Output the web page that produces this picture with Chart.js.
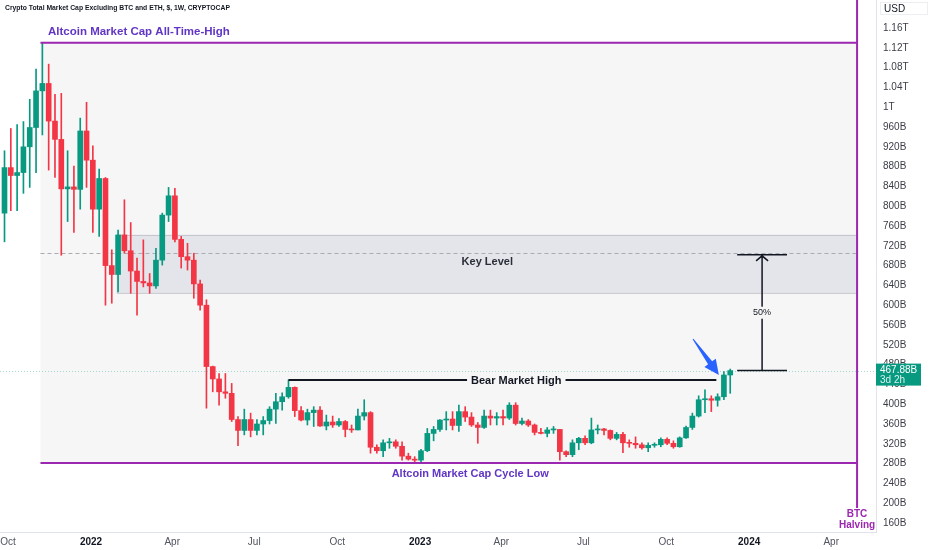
<!DOCTYPE html>
<html>
<head>
<meta charset="utf-8">
<script src="https://cdn.jsdelivr.net/npm/chart.js@4.4.1/dist/chart.umd.min.js"></script>
<style>
  html, body { margin: 0; padding: 0; background: #fff; }
  #wrap { width: 932px; height: 550px; }
</style>
</head>
<body>
<div id="wrap"><canvas id="myChart" width="932" height="550"></canvas></div>
<script>
// weekly candles, first one is the week of 2021-09-27 (values in billions USD)
const startDate = '2021-09-27'
const opens = [786, 878, 862, 868, 920, 959, 1033, 1048, 972, 935, 835, 839, 834, 952, 893, 794, 856, 680, 662, 742,
  710, 669, 648, 645, 639, 691, 782, 821, 733, 698, 691, 643, 600, 476, 451, 425, 422, 369, 347, 369,
  347, 360, 367, 390, 405, 415, 434, 387, 368, 383, 388, 356, 364, 358, 365, 349, 348, 376, 383, 313,
  306, 322, 324, 315, 295, 289, 287, 306, 341, 349, 368, 370, 357, 385, 374, 358, 353, 376, 372, 375,
  372, 398, 361, 366, 358, 343, 341, 348, 349, 304, 298, 322, 331, 322, 348, 350, 347, 331, 339, 322,
  321, 318, 312, 317, 318, 329, 321, 314, 332, 353, 376, 409, 411, 408, 415, 459]
const highs = [912, 957, 965, 971, 1016, 1077, 1130, 1087, 1026, 1028, 912, 881, 978, 1010, 922, 875, 858, 712, 752, 813,
  767, 695, 732, 664, 715, 786, 838, 836, 739, 725, 705, 651, 611, 477, 462, 462, 442, 375, 390, 382,
  369, 375, 395, 422, 423, 449, 435, 395, 390, 395, 395, 378, 376, 371, 367, 358, 390, 409, 385, 318,
  328, 331, 328, 324, 301, 294, 309, 351, 355, 369, 385, 385, 398, 395, 383, 363, 388, 388, 383, 388,
  403, 403, 372, 369, 360, 351, 353, 355, 349, 306, 328, 333, 336, 372, 358, 351, 348, 343, 343, 328,
  334, 322, 322, 322, 332, 332, 326, 334, 356, 382, 417, 429, 417, 421, 466, 471]
const lows = [728, 791, 791, 826, 838, 868, 944, 873, 858, 701, 769, 747, 794, 838, 747, 739, 600, 604, 627, 705,
  624, 580, 637, 624, 634, 681, 769, 728, 675, 671, 614, 590, 392, 425, 398, 412, 365, 316, 338, 334,
  338, 338, 360, 361, 388, 412, 375, 366, 358, 355, 355, 348, 353, 355, 334, 343, 348, 368, 301, 301,
  294, 311, 311, 287, 287, 282, 284, 304, 326, 345, 348, 348, 345, 365, 355, 321, 351, 358, 358, 358,
  369, 358, 358, 355, 338, 340, 334, 341, 287, 294, 294, 308, 318, 320, 340, 338, 328, 328, 302, 313,
  311, 309, 304, 313, 314, 318, 311, 313, 331, 349, 374, 383, 385, 396, 409, 422]
const closes = [878, 862, 868, 920, 959, 1033, 1048, 972, 935, 835, 839, 834, 952, 893, 794, 856, 680, 662, 742, 710,
  669, 648, 645, 639, 691, 782, 821, 733, 698, 691, 643, 600, 476, 451, 425, 422, 369, 347, 369, 347,
  360, 367, 390, 405, 415, 434, 387, 368, 383, 388, 356, 364, 358, 365, 349, 348, 376, 383, 313, 306,
  322, 324, 315, 295, 289, 287, 306, 341, 349, 368, 370, 357, 385, 374, 358, 353, 376, 372, 375, 372,
  398, 361, 366, 358, 343, 341, 348, 349, 304, 298, 322, 331, 322, 348, 350, 347, 331, 339, 322, 321,
  318, 312, 317, 318, 329, 321, 314, 332, 353, 376, 409, 411, 408, 415, 459, 467.88]

const tickDates = ['2021-10-01', '2022-01-01', '2022-04-01', '2022-07-01', '2022-10-01', '2023-01-01',
  '2023-04-01', '2023-07-01', '2023-10-01', '2024-01-01', '2024-04-01']
const tickLabels = ['Oct', '2022', 'Apr', 'Jul', 'Oct', '2023', 'Apr', 'Jul', 'Oct', '2024', 'Apr']
const priceTicks = [160, 200, 240, 280, 320, 360, 400, 440, 480, 520, 560, 600, 640, 680, 720, 760, 800,
  840, 880, 920, 960, 1000, 1040, 1080, 1120, 1160]

// drawn levels (price) and spans (week index)
const athLevel = 1130
const cycleLow = 281.2
const keyTop = 742
const keyBottom = 625
const keyMid = 705.5
const bearHigh = 449
const lastPrice = 467.88
const targetLevel = 701.8
const athStart = 5.7
const halvingWeek = 135.1
const keyStart = 17.8
const bearStart = 45
const bearEnd = 112.8
const bearLabelAt = 81.1
const measureSpan = [116.1, 124]
const measureAt = 120.05
const arrowTail = [109.1, 531.7]
const arrowTip = [113.2, 459]

const up = '#089981'
const down = '#f23645'
const purple = '#9c27b0'
const labelPurple = '#6236c4'
const boxFill = '#f6f6f7'

const weekIndex = (d) => (Date.parse(d) - Date.parse(startDate)) / (7 * 864e5)
const colors = closes.map((c, i) => c >= opens[i] ? up : down)

const fmtPrice = (v) => v >= 1000 ? (v / 1000) + 'T' : v + 'B'

const overlay = {
  id: 'overlay',
  beforeDatasetsDraw(chart) {
    const { ctx, scales: { x, y }, chartArea } = chart
    ctx.save()
    // ATH to cycle-low range
    ctx.fillStyle = boxFill
    ctx.fillRect(x.getPixelForValue(athStart), y.getPixelForValue(athLevel),
      x.getPixelForValue(halvingWeek) - x.getPixelForValue(athStart),
      y.getPixelForValue(cycleLow) - y.getPixelForValue(athLevel))
    // key level zone
    const kx = x.getPixelForValue(keyStart)
    const kw = x.getPixelForValue(halvingWeek) - kx
    const ky = y.getPixelForValue(keyTop)
    const kh = y.getPixelForValue(keyBottom) - ky
    ctx.fillStyle = '#e4e5ea'
    ctx.fillRect(kx, ky, kw, kh)
    ctx.strokeStyle = '#c4c5cb'
    ctx.lineWidth = 1
    ctx.strokeRect(kx + 0.5, ky + 0.5, kw, kh)
    // dashed mid line
    ctx.strokeStyle = '#a9aab2'
    ctx.setLineDash([4, 3])
    ctx.beginPath()
    const my = Math.round(y.getPixelForValue(keyMid)) + 0.5
    ctx.moveTo(x.getPixelForValue(athStart), my)
    ctx.lineTo(x.getPixelForValue(halvingWeek), my)
    ctx.stroke()
    // last price line
    ctx.strokeStyle = 'rgba(8,153,129,0.35)'
    ctx.setLineDash([1, 2])
    ctx.beginPath()
    const py = Math.round(y.getPixelForValue(lastPrice)) + 0.5
    ctx.moveTo(chartArea.left, py)
    ctx.lineTo(chartArea.right, py)
    ctx.stroke()
    ctx.restore()
  },
  afterDatasetsDraw(chart) {
    const { ctx, scales: { x, y }, chartArea } = chart
    const xa = x.getPixelForValue(athStart)
    const xh = x.getPixelForValue(halvingWeek)
    ctx.save()
    ctx.lineWidth = 2
    ctx.strokeStyle = purple
    ctx.beginPath()
    ctx.moveTo(xa, y.getPixelForValue(athLevel))
    ctx.lineTo(xh, y.getPixelForValue(athLevel))
    ctx.moveTo(xa, y.getPixelForValue(cycleLow))
    ctx.lineTo(xh, y.getPixelForValue(cycleLow))
    ctx.moveTo(xh, chartArea.top)
    ctx.lineTo(xh, chartArea.bottom - 24)
    ctx.stroke()

    // bear market high
    const by = y.getPixelForValue(bearHigh)
    ctx.strokeStyle = '#131722'
    ctx.beginPath()
    ctx.moveTo(x.getPixelForValue(bearStart), by)
    ctx.lineTo(x.getPixelForValue(bearEnd), by)
    ctx.stroke()
    ctx.font = 'bold 11px "Liberation Sans", Arial, sans-serif'
    ctx.textAlign = 'center'
    ctx.textBaseline = 'middle'
    const bx = x.getPixelForValue(bearLabelAt)
    const bw = ctx.measureText('Bear Market High').width
    ctx.fillStyle = boxFill
    ctx.fillRect(bx - bw / 2 - 4, by - 6, bw + 8, 12)
    ctx.fillStyle = '#131722'
    ctx.fillText('Bear Market High', bx, by + 1)

    // 50% measure
    const m0 = x.getPixelForValue(measureSpan[0])
    const m1 = x.getPixelForValue(measureSpan[1])
    const mx = x.getPixelForValue(measureAt)
    const yb = y.getPixelForValue(lastPrice)
    const yt = y.getPixelForValue(targetLevel)
    ctx.lineWidth = 1.5
    ctx.beginPath()
    ctx.moveTo(m0, yb); ctx.lineTo(m1, yb)
    ctx.moveTo(m0, yt); ctx.lineTo(m1, yt)
    ctx.moveTo(mx, yb); ctx.lineTo(mx, yt)
    ctx.moveTo(mx - 6, yt + 6); ctx.lineTo(mx, yt + 1); ctx.lineTo(mx + 6, yt + 6)
    ctx.stroke()
    ctx.font = '9px "Liberation Sans", Arial, sans-serif'
    const mMid = (yb + yt) / 2
    ctx.fillStyle = boxFill
    ctx.fillRect(mx - 10, mMid - 6, 20, 12)
    ctx.fillStyle = '#131722'
    ctx.fillText('50%', mx, mMid)

    // blue arrow
    const tx = x.getPixelForValue(arrowTail[0]), ty = y.getPixelForValue(arrowTail[1])
    const hx = x.getPixelForValue(arrowTip[0]), hy = y.getPixelForValue(arrowTip[1])
    const len = Math.hypot(hx - tx, hy - ty)
    const ux = (hx - tx) / len, uy = (hy - ty) / len
    const nx = -uy, ny = ux
    const bxp = hx - ux * 15, byp = hy - uy * 15
    ctx.fillStyle = '#2962ff'
    ctx.beginPath()
    ctx.moveTo(tx + nx * 0.5, ty + ny * 0.5)
    ctx.lineTo(bxp + nx * 2.5, byp + ny * 2.5)
    ctx.lineTo(bxp + nx * 7, byp + ny * 7)
    ctx.lineTo(hx, hy)
    ctx.lineTo(bxp - nx * 7, byp - ny * 7)
    ctx.lineTo(bxp - nx * 2.5, byp - ny * 2.5)
    ctx.lineTo(tx - nx * 0.5, ty - ny * 0.5)
    ctx.closePath()
    ctx.fill()

    // texts
    ctx.font = 'bold 11.5px "Liberation Sans", Arial, sans-serif'
    ctx.fillStyle = labelPurple
    ctx.textAlign = 'left'
    ctx.fillText('Altcoin Market Cap All-Time-High', xa + 7.5, y.getPixelForValue(athLevel) - 11)
    ctx.font = 'bold 11px "Liberation Sans", Arial, sans-serif'
    ctx.textAlign = 'center'
    ctx.fillText('Altcoin Market Cap Cycle Low', x.getPixelForValue(73.8), y.getPixelForValue(cycleLow) + 11)
    ctx.fillStyle = '#2a2e39'
    ctx.fillText('Key Level', x.getPixelForValue(76.5), y.getPixelForValue((keyTop + keyBottom) / 2) - 2)
    ctx.fillStyle = purple
    ctx.font = 'bold 10px "Liberation Sans", Arial, sans-serif'
    ctx.fillText('BTC', xh, chartArea.bottom - 18)
    ctx.fillText('Halving', xh, chartArea.bottom - 7)

    // title
    ctx.textAlign = 'left'
    ctx.fillStyle = '#131722'
    ctx.font = 'bold 6.8px "Liberation Sans", Arial, sans-serif'
    ctx.fillText('Crypto Total Market Cap Excluding BTC and ETH, $, 1W, CRYPTOCAP', 5, 8)
    ctx.restore()
  },
  afterDraw(chart) {
    const { ctx, scales: { y }, chartArea } = chart
    ctx.save()
    // last price badge
    const py = y.getPixelForValue(lastPrice)
    ctx.fillStyle = up
    ctx.fillRect(chartArea.right, py - 7, 45, 22)
    ctx.fillStyle = '#ffffff'
    ctx.font = '10px "Liberation Sans", Arial, sans-serif'
    ctx.textBaseline = 'middle'
    ctx.textAlign = 'left'
    ctx.fillText(lastPrice.toFixed(2) + 'B', chartArea.right + 4, py)
    ctx.fillStyle = '#d6f2ec'
    ctx.fillText('3d 2h', chartArea.right + 4, py + 10)
    // currency box
    ctx.fillStyle = '#ffffff'
    ctx.fillRect(chartArea.right + 4, 2, 48, 13)
    ctx.strokeStyle = '#eceef2'
    ctx.strokeRect(chartArea.right + 4.5, 2.5, 47, 12)
    ctx.fillStyle = '#131722'
    ctx.fillText('USD', chartArea.right + 8, 9)
    ctx.restore()
  }
}

const config = {
  type: 'bar',
  data: {
    datasets: [{
      label: 'wicks',
      data: highs.map((h, i) => ({ x: i, y: [lows[i], h] })),
      backgroundColor: colors,
      barThickness: 1,
      grouped: false,
      order: 2
    }, {
      label: 'bodies',
      data: opens.map((o, i) => ({ x: i, y: [o, closes[i]] })),
      backgroundColor: colors,
      barThickness: 5,
      minBarLength: 1,
      grouped: false,
      order: 1
    }]
  },
  options: {
    responsive: false,
    animation: false,
    layout: { padding: 0, autoPadding: false },
    scales: {
      x: {
        type: 'linear',
        offset: false,
        min: -0.713,
        max: 138.1,
        grid: { display: false, drawTicks: false },
        border: { display: true, color: '#e0e3eb' },
        afterBuildTicks: (s) => { s.ticks = tickDates.map((d) => ({ value: weekIndex(d) })) },
        afterFit: (s) => { s.height = 18; s.paddingLeft = 0; s.paddingRight = 0 },
        ticks: {
          autoSkip: false,
          maxRotation: 0,
          padding: 4,
          color: (c) => /^\d{4}$/.test(tickLabels[c.index]) ? '#131722' : '#50535e',
          font: (c) => ({ size: 10, family: '"Liberation Sans", Arial, sans-serif',
            weight: /^\d{4}$/.test(tickLabels[c.index]) ? 'bold' : 'normal' }),
          callback: (v, i) => tickLabels[i]
        }
      },
      y: {
        position: 'right',
        min: 141.8,
        max: 1216.6,
        grid: { display: false, drawTicks: false },
        border: { display: true, color: '#e0e3eb' },
        afterBuildTicks: (s) => { s.ticks = priceTicks.map((v) => ({ value: v })) },
        afterFit: (s) => { s.width = 56; s.paddingTop = 0; s.paddingBottom = 0 },
        ticks: {
          padding: 7,
          color: '#3b3e47',
          font: { size: 10, family: '"Liberation Sans", Arial, sans-serif' },
          callback: (v) => fmtPrice(v)
        }
      }
    },
    plugins: {
      legend: { display: false },
      tooltip: { enabled: false },
      title: { display: false }
    }
  },
  plugins: [overlay]
}

const myChart = new Chart(document.getElementById('myChart'), config)
</script>
</body>
</html>
